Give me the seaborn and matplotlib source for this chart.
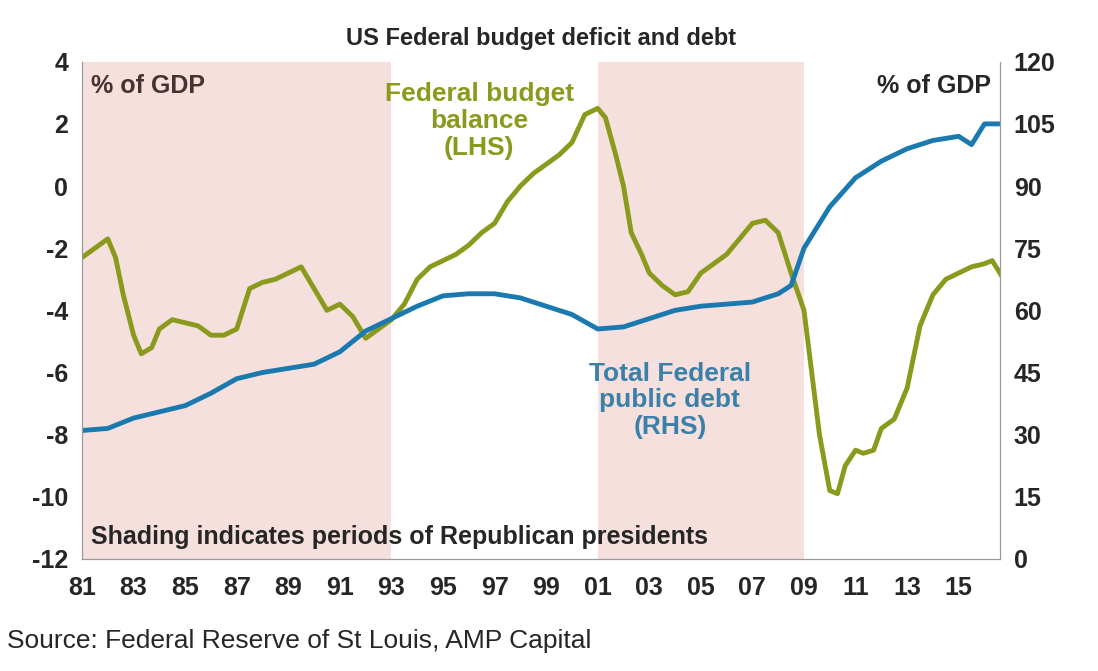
import numpy as np
import pandas as pd
import seaborn as sns
import matplotlib.pyplot as plt

# federal budget balance, % of GDP (LHS)
bal_year = [1981.0, 1981.5, 1982.0, 1982.3, 1982.6, 1983.0, 1983.3, 1983.7, 1984.0, 1984.5,
            1985.0, 1985.5, 1986.0, 1986.5, 1987.0, 1987.5, 1988.0, 1988.5, 1989.0, 1989.5,
            1990.0, 1990.5, 1991.0, 1991.5, 1992.0, 1992.5, 1993.0, 1993.5, 1994.0, 1994.5,
            1995.0, 1995.5, 1996.0, 1996.5, 1997.0, 1997.5, 1998.0, 1998.5, 1999.0, 1999.5,
            2000.0, 2000.5, 2001.0, 2001.3, 2001.7, 2002.0, 2002.3, 2002.7, 2003.0, 2003.5,
            2004.0, 2004.5, 2005.0, 2005.5, 2006.0, 2006.5, 2007.0, 2007.5, 2008.0, 2008.5,
            2009.0, 2009.3, 2009.6, 2010.0, 2010.3, 2010.6, 2011.0, 2011.3, 2011.7, 2012.0,
            2012.5, 2013.0, 2013.5, 2014.0, 2014.5, 2015.0, 2015.5, 2016.0, 2016.3, 2016.6, 2016.8]
balance = [-2.3, -2.0, -1.7, -2.3, -3.5, -4.8, -5.4, -5.2, -4.6, -4.3,
           -4.4, -4.5, -4.8, -4.8, -4.6, -3.3, -3.1, -3.0, -2.8, -2.6,
           -3.3, -4.0, -3.8, -4.2, -4.9, -4.6, -4.3, -3.8, -3.0, -2.6,
           -2.4, -2.2, -1.9, -1.5, -1.2, -0.5, 0.0, 0.4, 0.7, 1.0,
           1.4, 2.3, 2.5, 2.2, 1.0, 0.0, -1.5, -2.2, -2.8, -3.2,
           -3.5, -3.4, -2.8, -2.5, -2.2, -1.7, -1.2, -1.1, -1.5, -2.8,
           -4.0, -6.0, -8.0, -9.8, -9.9, -9.0, -8.5, -8.6, -8.5, -7.8,
           -7.5, -6.5, -4.5, -3.5, -3.0, -2.8, -2.6, -2.5, -2.4, -2.8, -3.1]

# total federal public debt, % of GDP (RHS)
debt_year = [1981, 1982, 1983, 1984, 1985, 1986, 1987, 1988, 1989, 1990, 1991, 1992, 1993,
             1994, 1995, 1996, 1997, 1998, 1999, 2000, 2001, 2002, 2003, 2004, 2005, 2006,
             2007, 2008, 2008.5, 2009, 2010, 2011, 2012, 2013, 2014, 2015, 2015.5, 2016, 2016.8]
debt = [31, 31.5, 34, 35.5, 37, 40, 43.5, 45, 46, 47, 50, 55, 58,
        61, 63.5, 64, 64, 63, 61, 59, 55.5, 56, 58, 60, 61, 61.5,
        62, 64, 66, 75, 85, 92, 96, 99, 101, 102, 100, 105, 105]

republican = [(1981, 1993), (2001, 2009)]
tick_years = list(range(1981, 2016, 2))

green = '#8a9a1c'
blue = '#1a7ab0'

sns.set_style('white')
plt.rcParams['font.family'] = ['Liberation Sans', 'DejaVu Sans']
plt.rcParams['axes.unicode_minus'] = False

fig = plt.figure(figsize=(10.98, 6.71), dpi=100)
ax = fig.add_axes([0.0747, 0.167, 0.836, 0.741])
ax2 = ax.twinx()

for a, b in republican:
    ax.axvspan(a, b, color='#f6e0de', lw=0, zorder=0)

bal_df = pd.DataFrame({'year': bal_year, 'balance': balance})
debt_df = pd.DataFrame({'year': debt_year, 'debt': debt})
sns.lineplot(data=bal_df, x='year', y='balance', ax=ax, color=green, lw=3.5)
sns.lineplot(data=debt_df, x='year', y='debt', ax=ax2, color=blue, lw=3.5)

ax.set_xlim(1981, 2016.6)
ax.set_ylim(-12, 4)
ax2.set_ylim(0, 120)
ax.set_yticks(range(-12, 5, 2))
ax2.set_yticks(range(0, 121, 15))
ax.set_xticks(tick_years)
ax.set_xticklabels(['%02d' % (y % 100) for y in tick_years])
for a in (ax, ax2):
    a.tick_params(labelsize=18, length=0)
    a.tick_params(axis='x', pad=12)
    a.tick_params(axis='y', pad=10)
    for lab in a.get_xticklabels() + a.get_yticklabels():
        lab.set_fontweight('bold')
    a.set_xlabel('')
    a.set_ylabel('')
    a.spines['top'].set_visible(False)
    for s in ('left', 'right', 'bottom'):
        a.spines[s].set_color('#999999')

ax.set_title('US Federal budget deficit and debt', fontsize=17, fontweight='bold', pad=12)
ax.text(0.01, 0.975, '% of GDP', transform=ax.transAxes, fontsize=18, fontweight='bold',
        color='#4a3030', va='top')
ax.text(0.99, 0.975, '% of GDP', transform=ax.transAxes, fontsize=18, fontweight='bold',
        ha='right', va='top')
ax.text(1996.4, 2.1, 'Federal budget\nbalance\n(LHS)', color=green, fontsize=19,
        fontweight='bold', ha='center', va='center', linespacing=1.15)
ax.text(2003.8, -6.9, 'Total Federal\npublic debt\n(RHS)', color='#3a80a8', fontsize=19,
        fontweight='bold', ha='center', va='center', linespacing=1.15)
ax.text(0.01, 0.03, 'Shading indicates periods of Republican presidents', transform=ax.transAxes,
        fontsize=18, fontweight='bold')
fig.text(0.006, 0.035, 'Source: Federal Reserve of St Louis, AMP Capital', fontsize=19)

fig.savefig('out.png', dpi=100)
